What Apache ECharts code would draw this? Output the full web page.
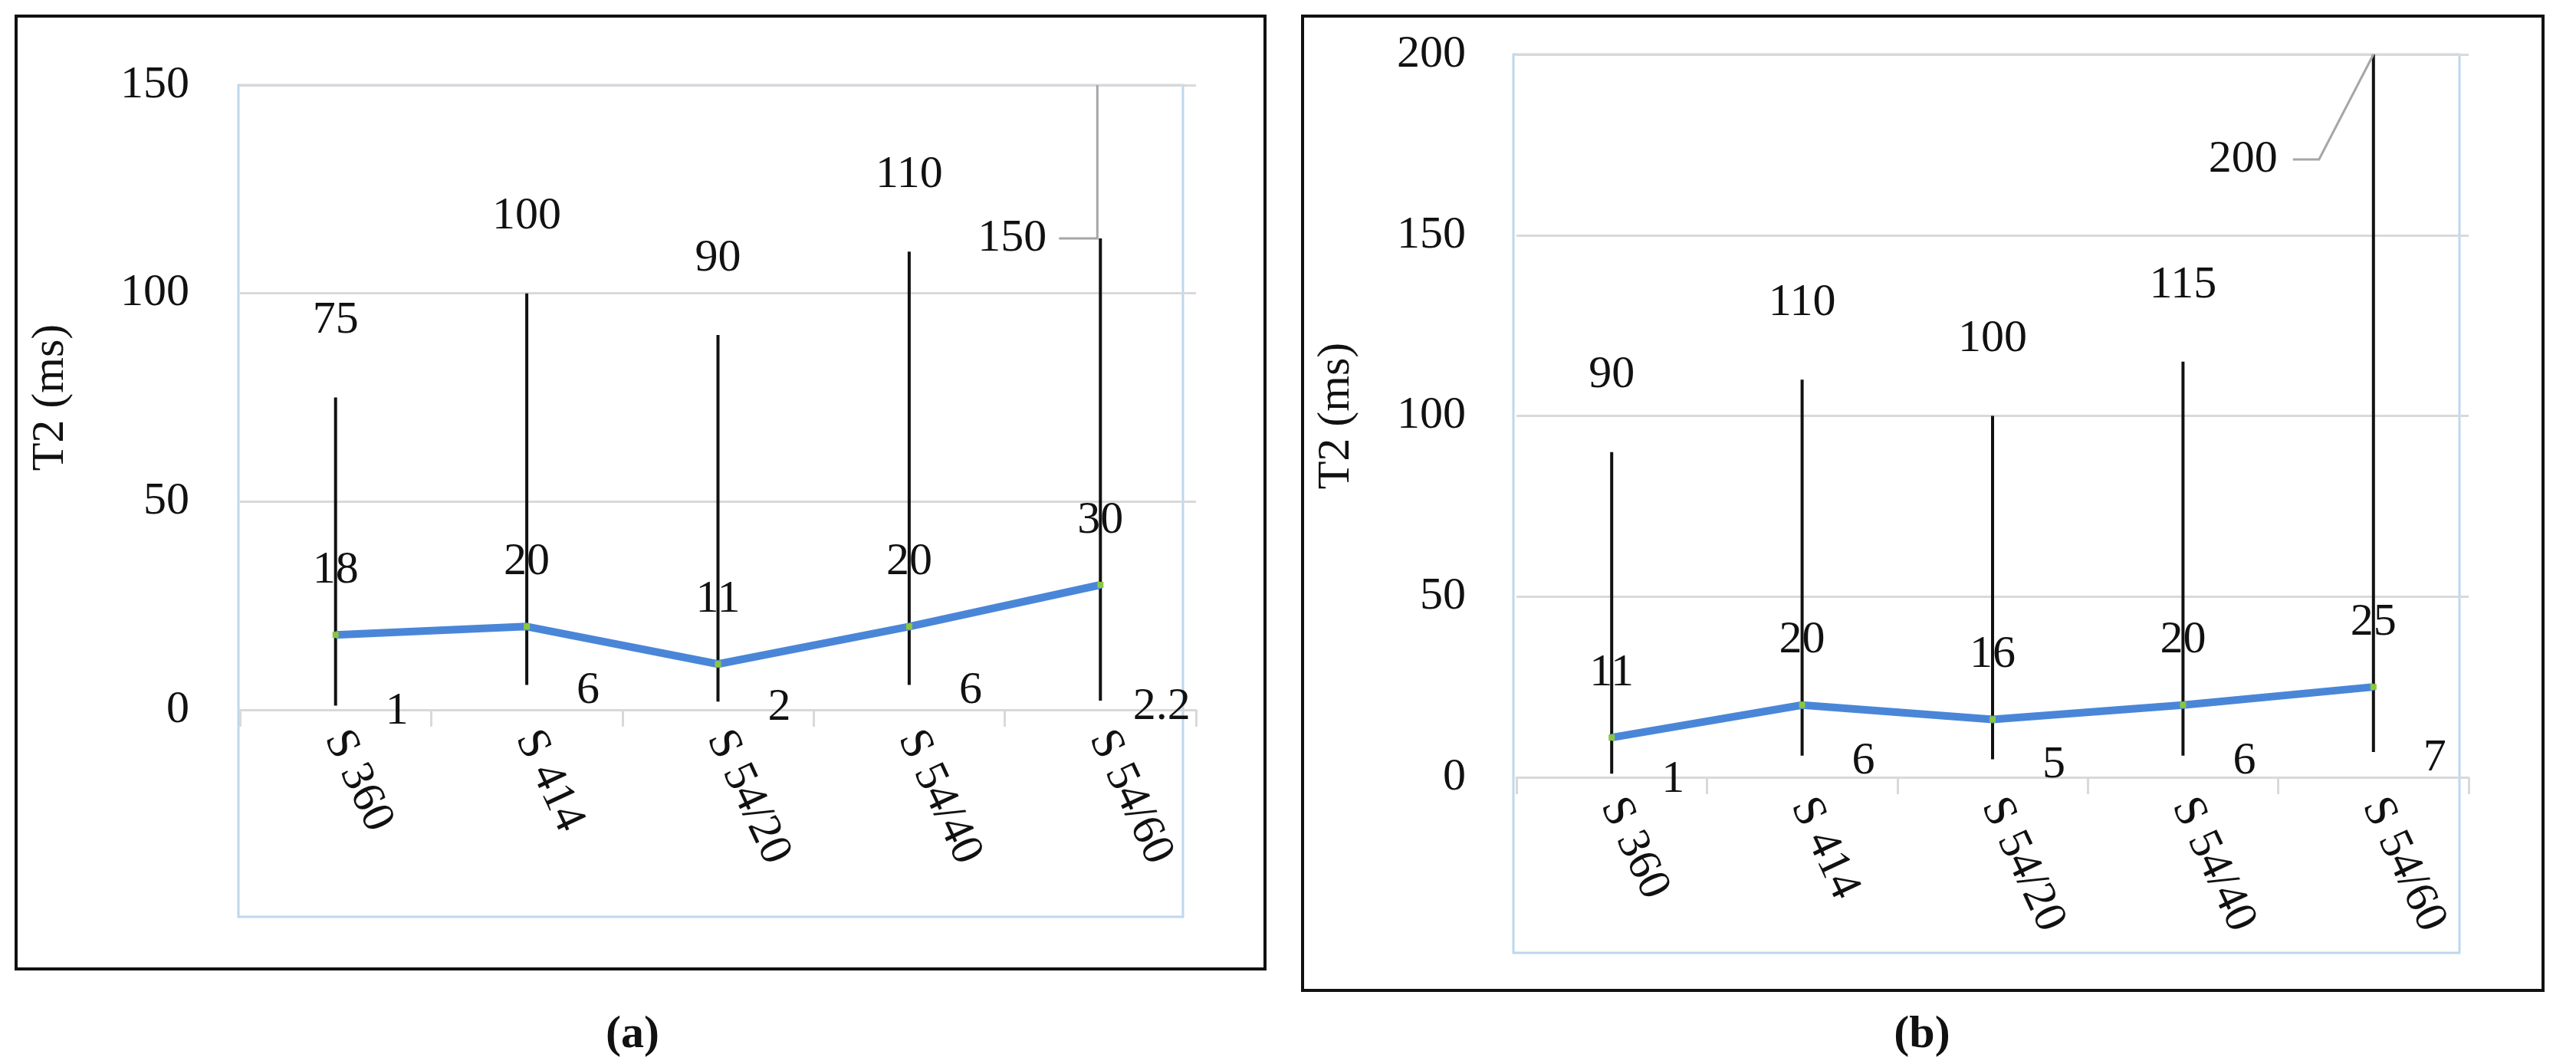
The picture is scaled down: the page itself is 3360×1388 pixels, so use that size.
<!DOCTYPE html>
<html><head><meta charset="utf-8">
<script src="https://cdn.jsdelivr.net/npm/echarts@6/dist/echarts.min.js"></script>
<style>html,body{margin:0;padding:0;background:#fff}#c{width:3360px;height:1388px}</style>
</head><body><div id="c"></div>
<script>
const categories = ['S 360','S 414','S 54/20','S 54/40','S 54/60'];
const meanA = [18,20,11,20,30];
const highA = [75,100,90,110,150];
const lowA  = [1,6,2,6,2.2];
const meanB = [11,20,16,20,25];
const highB = [90,110,100,115,200];
const lowB  = [1,6,5,6,7];

const FONT = '"Liberation Serif","DejaVu Serif",serif';
const FS = 60;

function makeRender(special){
  return function(params, api){
    const i = api.value(0), lo = api.value(1), hi = api.value(2);
    const pLo = api.coord([i, lo]), pHi = api.coord([i, hi]);
    const x = pLo[0];
    const ch = [];
    const txt = (t, tx, ty, align) => ({type:'text', style:{text:t, x:tx, y:ty, fill:'#111', font: FS+'px '+FONT, align:align||'center', verticalAlign:'middle'}});
    ch.push(txt(String(lo), x + 80, pLo[1] + 8));
    if (params.dataIndex === 4 && special === 'a') {
      const ly = pHi[1] + 200;
      ch.push({type:'line', shape:{x1:x,y1:pLo[1],x2:x,y2:ly}, style:{stroke:'#111', lineWidth:4}});
      ch.push({type:'polyline', shape:{points:[[x-54,ly],[x-4,ly],[x-4,pHi[1]]]}, style:{stroke:'#a6a6a6', lineWidth:3, fill:null}});
      ch.push(txt(String(hi), x - 115, ly));
    } else if (params.dataIndex === 4 && special === 'b') {
      ch.push({type:'line', shape:{x1:x,y1:pLo[1],x2:x,y2:pHi[1]}, style:{stroke:'#111', lineWidth:4}});
      const ly = pHi[1] + 137;
      ch.push({type:'polyline', shape:{points:[[x-105,ly],[x-71,ly],[x,pHi[1]]]}, style:{stroke:'#a6a6a6', lineWidth:3, fill:null}});
      ch.push(txt(String(hi), x - 170, ly));
    } else {
      ch.push({type:'line', shape:{x1:x,y1:pLo[1],x2:x,y2:pHi[1]}, style:{stroke:'#111', lineWidth:4}});
      ch.push(txt(String(hi), x, pHi[1] - 100));
    }
    return {type:'group', children: ch};
  };
}

function xAxis(gi){
  return {type:'category', gridIndex:gi, data:categories, boundaryGap:true,
    axisLine:{lineStyle:{color:'#d9d9d9', width:3}},
    axisTick:{show:true, length:22, lineStyle:{color:'#d9d9d9', width:3}},
    axisLabel:{rotate:-65, fontSize:FS, fontFamily:FONT, color:'#111', margin:30}};
}
function yAxis(gi, max, gap){
  return {type:'value', gridIndex:gi, min:0, max:max, interval:50,
    name:'T2 (ms)', nameLocation:'middle', nameGap:gap,
    nameTextStyle:{fontSize:FS, fontFamily:FONT, color:'#111'},
    axisLine:{show:false}, axisTick:{show:false},
    splitLine:{lineStyle:{color:'#d9d9d9', width:3}},
    axisLabel:{fontSize:FS, fontFamily:FONT, color:'#111', margin:66}};
}
function lineSeries(gi, data){
  return {type:'line', xAxisIndex:gi, yAxisIndex:gi, data:data, z:5,
    lineStyle:{color:'#4a86d8', width:10}, itemStyle:{color:'#8cc63f'},
    symbol:'rect', symbolSize:8, showSymbol:true,
    label:{show:true, position:'top', distance:50, fontSize:FS, fontFamily:FONT, color:'#111'}};
}

const chart = echarts.init(document.getElementById('c'));
chart.setOption({
  animation:false,
  grid:[{left:313, right:1800, top:111, bottom:462},{left:1978, right:140, top:71, bottom:374}],
  xAxis:[xAxis(0), xAxis(1)],
  yAxis:[yAxis(0,150,217), yAxis(1,200,205)],
  graphic:[
    {type:'rect', shape:{x:21,y:21,width:1629,height:1243}, style:{fill:null, stroke:'#111', lineWidth:4}},
    {type:'rect', shape:{x:311,y:111,width:1232,height:1085}, style:{fill:null, stroke:'#bdd7ee', lineWidth:3}},
    {type:'text', style:{text:'(a)', x:825, y:1350, font:'bold '+FS+'px '+FONT, fill:'#111', align:'center', verticalAlign:'middle'}},
    {type:'rect', shape:{x:1699,y:21,width:1618,height:1271}, style:{fill:null, stroke:'#111', lineWidth:4}},
    {type:'rect', shape:{x:1974,y:71,width:1234,height:1172}, style:{fill:null, stroke:'#bdd7ee', lineWidth:3}},
    {type:'text', style:{text:'(b)', x:2507, y:1350, font:'bold '+FS+'px '+FONT, fill:'#111', align:'center', verticalAlign:'middle'}}
  ],
  series:[
    {type:'custom', xAxisIndex:0, yAxisIndex:0, renderItem:makeRender('a'), data:categories.map((c,i)=>[i,lowA[i],highA[i]]), z:3},
    {type:'custom', xAxisIndex:1, yAxisIndex:1, renderItem:makeRender('b'), data:categories.map((c,i)=>[i,lowB[i],highB[i]]), z:3},
    lineSeries(0, meanA), lineSeries(1, meanB)
  ]
});
</script></body></html>
